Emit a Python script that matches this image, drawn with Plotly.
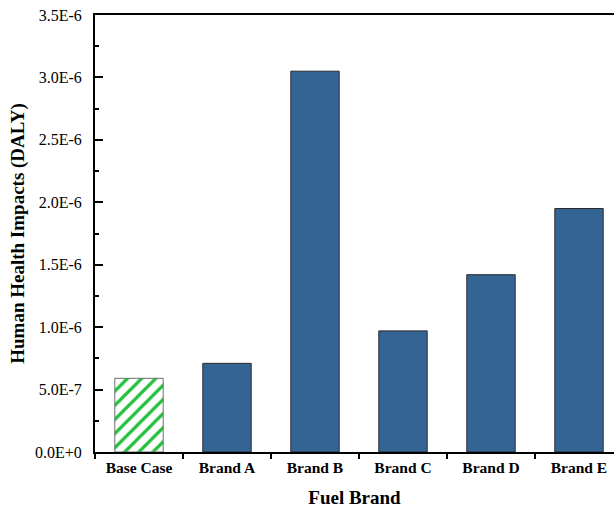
import plotly.graph_objects as go

# Human health impacts per fuel brand (DALY)
brands = ["Base Case", "Brand A", "Brand B", "Brand C", "Brand D", "Brand E"]
daly = [5.9e-7, 7.1e-7, 3.05e-6, 9.7e-7, 1.42e-6, 1.95e-6]

y_tickvals = [0, 5e-7, 1e-6, 1.5e-6, 2e-6, 2.5e-6, 3e-6, 3.5e-6]
y_ticktext = ["0.0E+0", "5.0E-7", "1.0E-6", "1.5E-6", "2.0E-6", "2.5E-6", "3.0E-6", "3.5E-6"]

fig = go.Figure()

# Base case: hatched green bar
fig.add_trace(go.Bar(
    x=brands[:1],
    y=daly[:1],
    width=0.55,
    marker=dict(
        color="white",
        line=dict(color="#6e6e6e", width=1),
        pattern=dict(shape="/", fgcolor="#22c03c", bgcolor="white",
                     fgopacity=1, size=10, solidity=0.32),
    ),
))

# Fuel brands: solid blue bars
fig.add_trace(go.Bar(
    x=brands[1:],
    y=daly[1:],
    width=0.55,
    marker=dict(color="#336494", line=dict(color="#2a2a2a", width=1)),
))

serif = "Liberation Serif, Times New Roman, serif"

fig.update_layout(
    width=614,
    height=508,
    margin=dict(l=95, r=0, t=15, b=56),
    paper_bgcolor="white",
    plot_bgcolor="white",
    showlegend=False,
    barmode="overlay",
    font=dict(family=serif, color="black"),
)

fig.update_xaxes(
    categoryorder="array", categoryarray=brands,
    range=[-0.5, -0.5 + (614 - 95) / 88],
    showline=True, linecolor="black", linewidth=2, mirror=True,
    ticks="outside", tickson="boundaries", ticklen=5, tickwidth=1.5, tickcolor="black",
    showgrid=False, zeroline=False,
    tickfont=dict(family=serif, size=15.5, weight="bold"),
    title=dict(text="<b>Fuel Brand</b>", font=dict(family=serif, size=19), standoff=16),
)

fig.update_yaxes(
    range=[0, 3.5e-6],
    tickvals=y_tickvals, ticktext=y_ticktext,
    showline=True, linecolor="black", linewidth=2,
    ticks="inside", ticklen=8, tickwidth=1.5, tickcolor="black",
    ticklabelstandoff=8,
    minor=dict(ticks="inside", ticklen=4, tickwidth=1.5, tickcolor="black", dtick=2.5e-7, showgrid=False),
    showgrid=False, zeroline=False,
    tickfont=dict(family=serif, size=16),
    title=dict(text="<b>Human Health Impacts (DALY)</b>", font=dict(family=serif, size=19), standoff=5),
)

fig.write_html("out.html")
